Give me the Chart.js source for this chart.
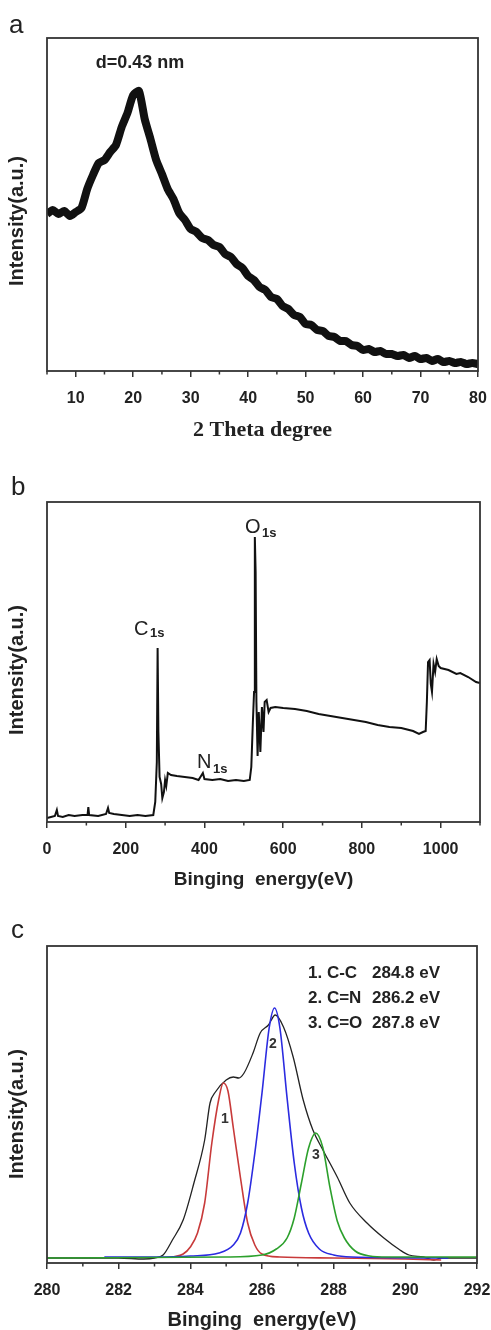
<!DOCTYPE html>
<html>
<head>
<meta charset="utf-8">
<script src="https://cdn.jsdelivr.net/npm/chart.js@4.4.0/dist/chart.umd.min.js"></script>
<style>
  html, body { margin: 0; padding: 0; background: #fff; }
  #wrap { position: relative; width: 491px; height: 1330px; }
  .panel { position: absolute; left: 0; width: 491px; }
</style>
</head>
<body>
<div id="wrap">
  <div class="panel" style="top:0;height:445px"><canvas id="xrd"></canvas></div>
  <div class="panel" style="top:445px;height:450px"><canvas id="survey"></canvas></div>
  <div class="panel" style="top:895px;height:435px"><canvas id="c1s"></canvas></div>
</div>
<script>
// (a) XRD pattern, 2 theta (deg) vs intensity (a.u.)
const thetaA = [5, 6, 7, 8, 9, 10, 11, 12, 13, 14, 15, 16, 17, 18, 19, 20, 21, 22, 23, 24, 25, 26, 27, 28, 29, 30,
  31, 32, 33, 34, 35, 36, 37, 38, 39, 40, 41, 42, 43, 44, 45, 46, 47, 48, 49, 50, 51, 52, 53, 54, 55,
  56, 57, 58, 59, 60, 61, 62, 63, 64, 65, 66, 67, 68, 69, 70, 71, 72, 73, 74, 75, 76, 77, 78, 79, 80]
const intensityA = [157, 161, 157, 160, 155, 159, 163, 182, 196, 208, 211, 219, 226, 244, 258, 276, 280, 252, 232, 211, 197, 182, 172, 158, 151, 142,
  139, 133, 131, 126, 124, 117, 114, 107, 103, 95, 91, 84, 81, 74, 72, 65, 62, 56, 54, 47, 46, 41, 40, 35, 34,
  30, 30, 26, 25, 21, 22, 19, 20, 17, 17, 15, 16, 13, 15, 12, 13, 10, 12, 9, 10, 8, 9, 7, 8, 7]

// (b) XPS survey, binding energy (eV) vs intensity (a.u.)
const energyB = [0, 10, 20, 25, 28, 40, 55, 70, 90, 103, 105, 107, 130, 150, 155, 158, 170, 190, 210, 230, 250, 270,
  275, 279, 281, 283, 286, 290, 293, 297, 300, 303, 307, 315, 330, 350, 370, 385, 396, 400, 420, 440, 460, 480, 500, 515,
  519, 523, 526, 528, 530, 532, 535, 538, 542, 546, 550, 553, 558, 563, 568, 580, 600, 630, 660, 690, 720, 750, 780,
  810, 840, 870, 900, 930, 945, 955, 962, 965, 968, 972, 975, 978, 982, 986, 990, 995, 1000, 1020, 1040, 1050, 1070, 1090, 1100]
const intensityB = [4, 5, 6, 12, 6, 5, 7, 6, 7, 7, 15, 7, 6, 8, 14, 9, 8, 7, 6, 7, 6, 7,
  20, 60, 174, 90, 45, 38, 24, 30, 42, 36, 49, 47, 46, 45, 44, 42, 49, 43, 42, 43, 41, 42, 41, 42,
  55, 100, 130, 285, 250, 120, 66, 110, 70, 115, 90, 120, 122, 110, 114, 115, 114, 113, 111, 108, 106, 104, 102,
  100, 97, 95, 94, 91, 88, 90, 91, 120, 160, 162, 138, 130, 158, 150, 163, 156, 154, 152, 148, 149, 145, 140, 139]

// (c) C1s high resolution spectrum and fitted components
const envelopeE = [280, 280.5, 281, 282, 282.7, 283, 283.24, 283.5, 283.8, 284.1, 284.4, 284.55, 284.7, 285.0, 285.2, 285.35,
  285.5, 285.75, 285.95, 286.18, 286.37, 286.6, 286.87, 287.15, 287.42, 287.7, 288.1, 288.45, 288.93, 289.4, 289.85,
  290.1, 290.5, 290.8, 291, 292]
const envelopeI = [5, 5, 5, 5, 4, 5, 8, 23, 43, 80, 123, 160, 171, 183, 186, 185,
  190, 210, 230, 238, 248, 236, 206, 163, 133, 113, 86, 60, 40, 25, 13,
  8, 6, 3, 5, 5]
const ccE = [283.5, 283.8, 284.0, 284.2, 284.4, 284.6, 284.8, 284.92, 285.05, 285.2, 285.4, 285.6, 285.8, 286.0, 286.5, 288, 290, 291]
const ccI = [6, 9, 16, 30, 60, 120, 165, 180, 172, 135, 85, 40, 18, 9, 6, 5, 4, 3]
const cnE = [281.6, 283, 284, 284.8, 285.2, 285.4, 285.6, 285.8, 286.0, 286.2, 286.35, 286.5, 286.7, 286.9, 287.1, 287.3, 287.6, 288, 288.5, 291.2]
const cnI = [6, 6, 7, 10, 18, 30, 60, 110, 170, 235, 255, 235, 165, 100, 55, 30, 14, 8, 6, 5]
const coE = [280, 285, 286, 286.4, 286.7, 286.9, 287.1, 287.3, 287.5, 287.7, 287.9, 288.1, 288.3, 288.6, 289, 289.5, 292]
const coI = [5, 6, 8, 14, 25, 45, 80, 115, 130, 115, 75, 42, 25, 12, 7, 6, 6]

const SANS = '"Liberation Sans", Arial, sans-serif'
const SERIF = '"Liberation Serif", "Times New Roman", serif'

const pts = (xs, ys) => xs.map((x, i) => ({ x: x, y: ys[i] }))

// frame round the plot area, minor ticks, y title and free text
const decor = {
  id: "decor",
  afterDraw(chart, args, opts) {
    const ctx = chart.ctx
    const a = chart.chartArea
    const xs = chart.scales.x
    ctx.save()
    ctx.strokeStyle = "#333"
    ctx.lineWidth = 1.8
    ctx.strokeRect(a.left, a.top, a.right - a.left, a.bottom - a.top)
    ctx.lineWidth = 1.5
    ;(opts.minor || []).forEach((v) => {
      const px = xs.getPixelForValue(v)
      ctx.beginPath()
      ctx.moveTo(px, a.bottom)
      ctx.lineTo(px, a.bottom + 3.5)
      ctx.stroke()
    })
    if (opts.ytitle) {
      ctx.save()
      ctx.translate(17, opts.ytitle.y)
      ctx.rotate(-Math.PI / 2)
      ctx.font = "bold 20px " + SANS
      ctx.fillStyle = "#222"
      ctx.textAlign = "center"
      ctx.textBaseline = "middle"
      ctx.fillText(opts.ytitle.text, 0, 0)
      ctx.restore()
    }
    ;(opts.texts || []).forEach((t) => {
      ctx.font = t.font
      ctx.fillStyle = t.color || "#222"
      ctx.textAlign = t.align || "left"
      ctx.textBaseline = t.base || "alphabetic"
      ctx.fillText(t.text, t.x, t.y)
    })
    ctx.restore()
  },
}
Chart.register(decor)

function axes(xmin, xmax, step, ymax, xTitle, titleFont, titlePad, xHeight) {
  return {
    x: {
      type: "linear",
      min: xmin,
      max: xmax,
      afterFit: (s) => {
        s.height = xHeight
        s.paddingLeft = 0
        s.paddingRight = 0
      },
      border: { display: false },
      grid: { drawOnChartArea: false, drawTicks: true, tickLength: 6, color: "#333", lineWidth: 1.5 },
      ticks: { stepSize: step, includeBounds: false, maxRotation: 0, padding: 12, color: "#222",
        font: { family: SANS, size: 16, weight: "bold" }, callback: (v) => String(v) },
      title: { display: true, text: xTitle, color: "#222", font: titleFont, padding: { top: 0, bottom: titlePad } },
    },
    y: { display: false, min: 0, max: ymax },
  }
}

const base = {
  responsive: true,
  maintainAspectRatio: false,
  animation: false,
  events: [],
}

// (a) XRD
new Chart(document.getElementById("xrd"), {
  type: "line",
  data: {
    datasets: [{ data: pts(thetaA, intensityA), borderColor: "#111", borderWidth: 8, pointRadius: 0, tension: 0.2 }],
  },
  options: {
    ...base,
    layout: { padding: { top: 38, right: 13, left: 47, bottom: 0 } },
    plugins: {
      legend: { display: false },
      tooltip: { enabled: false },
      decor: {
        minor: [5, 15, 25, 35, 45, 55, 65, 75],
        ytitle: { text: "Intensity(a.u.)", y: 221 },
        texts: [
          { text: "a", x: 9, y: 33, font: "26px " + SANS },
          { text: "d=0.43 nm", x: 140, y: 68, align: "center", font: "bold 18px " + SANS },
        ],
      },
    },
    scales: axes(5, 80, 10, 333, "2 Theta degree", { family: SERIF, size: 22, weight: "bold", lineHeight: 1 }, 4, 74),
  },
})

// (b) XPS survey
new Chart(document.getElementById("survey"), {
  type: "line",
  data: {
    datasets: [{ data: pts(energyB, intensityB), borderColor: "#111", borderWidth: 2, pointRadius: 0, tension: 0 }],
  },
  options: {
    ...base,
    layout: { padding: { top: 57, right: 11, left: 47, bottom: 0 } },
    plugins: {
      legend: { display: false },
      tooltip: { enabled: false },
      decor: {
        minor: [100, 300, 500, 700, 900, 1100],
        ytitle: { text: "Intensity(a.u.)", y: 225 },
        texts: [
          { text: "b", x: 11, y: 50, font: "26px " + SANS },
          { text: "O", x: 245, y: 88, font: "20px " + SANS },
          { text: "1s", x: 262, y: 92, font: "bold 13px " + SANS },
          { text: "C", x: 134, y: 190, font: "20px " + SANS },
          { text: "1s", x: 150, y: 192, font: "bold 13px " + SANS },
          { text: "N", x: 197, y: 323, font: "20px " + SANS },
          { text: "1s", x: 213, y: 328, font: "bold 13px " + SANS },
        ],
      },
    },
    scales: axes(0, 1100, 200, 320, "Binging  energy(eV)", { family: SANS, size: 19, weight: "bold", lineHeight: 1 }, 6, 73),
  },
})

// (c) C1s fit
new Chart(document.getElementById("c1s"), {
  type: "line",
  data: {
    datasets: [
      { label: "C=O", data: pts(coE, coI), borderColor: "#2ca02c", borderWidth: 1.6, pointRadius: 0, cubicInterpolationMode: "monotone" },
      { label: "C=N", data: pts(cnE, cnI), borderColor: "#2b2be0", borderWidth: 1.6, pointRadius: 0, cubicInterpolationMode: "monotone" },
      { label: "C-C", data: pts(ccE, ccI), borderColor: "#c83a3a", borderWidth: 1.6, pointRadius: 0, cubicInterpolationMode: "monotone" },
      { label: "sum", data: pts(envelopeE, envelopeI), borderColor: "#222", borderWidth: 1.3, pointRadius: 0, cubicInterpolationMode: "monotone" },
    ],
  },
  options: {
    ...base,
    layout: { padding: { top: 51, right: 14, left: 47, bottom: 0 } },
    plugins: {
      legend: { display: false },
      tooltip: { enabled: false },
      decor: {
        minor: [281, 283, 285, 287, 289, 291],
        ytitle: { text: "Intensity(a.u.)", y: 219 },
        texts: [
          { text: "c", x: 11, y: 43, font: "26px " + SANS },
          { text: "1. C-C", x: 308, y: 83, font: "bold 17px " + SANS },
          { text: "2. C=N", x: 308, y: 108, font: "bold 17px " + SANS },
          { text: "3. C=O", x: 308, y: 133, font: "bold 17px " + SANS },
          { text: "284.8 eV", x: 372, y: 83, font: "bold 17px " + SANS },
          { text: "286.2 eV", x: 372, y: 108, font: "bold 17px " + SANS },
          { text: "287.8 eV", x: 372, y: 133, font: "bold 17px " + SANS },
          { text: "1", x: 225, y: 224, align: "center", base: "middle", color: "#333", font: "bold 14px " + SANS },
          { text: "2", x: 273, y: 149, align: "center", base: "middle", color: "#333", font: "bold 14px " + SANS },
          { text: "3", x: 316, y: 260, align: "center", base: "middle", color: "#333", font: "bold 14px " + SANS },
        ],
      },
    },
    scales: axes(280, 292, 2, 317, "Binging  energy(eV)", { family: SANS, size: 20, weight: "bold", lineHeight: 1 }, 0, 67),
  },
})
</script>
</body>
</html>
